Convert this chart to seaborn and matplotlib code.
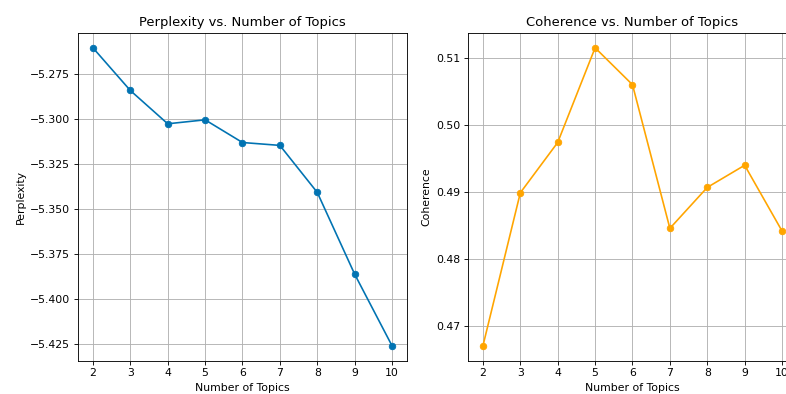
import matplotlib
matplotlib.use("Agg")
import matplotlib.pyplot as plt
import seaborn as sns
import pandas as pd

sns.set_style("ticks", {"text.color": "black", "axes.labelcolor": "black",
                        "xtick.color": "black", "ytick.color": "black"})
plt.rcParams['font.family'] = ['DejaVu Sans']

topics = [2, 3, 4, 5, 6, 7, 8, 9, 10]
perplexity = [-5.2606, -5.2843, -5.3028, -5.3006, -5.3132, -5.3148, -5.3409, -5.3863, -5.4261]
coherence = [0.4671, 0.4899, 0.4974, 0.5115, 0.5060, 0.4846, 0.4907, 0.4940, 0.4842]

df = pd.DataFrame({"topics": topics, "perplexity": perplexity, "coherence": coherence})

# original was a 10x5 figure shrunk to 786 px wide
fig = plt.figure(figsize=(10, 394 / 78.6), dpi=78.6)
ax1 = fig.add_axes([0.0992, 0.0845, 0.4186, 0.832])
ax2 = fig.add_axes([0.5954, 0.0845, 0.4186, 0.832])

sns.lineplot(data=df, x="topics", y="perplexity", marker="o", color="#0173b2",
             markeredgecolor="#0173b2", ax=ax1)
ax1.set_title("Perplexity vs. Number of Topics")
ax1.set_xlabel("Number of Topics")
ax1.set_ylabel("Perplexity")

sns.lineplot(data=df, x="topics", y="coherence", marker="o", color="orange",
             markeredgecolor="orange", ax=ax2)
ax2.set_title("Coherence vs. Number of Topics")
ax2.set_xlabel("Number of Topics")
ax2.set_ylabel("Coherence")

for ax in (ax1, ax2):
    ax.set_xticks(topics)
    ax.grid(True, color="#b0b0b0", linewidth=0.8)
    for s in ax.spines.values():
        s.set_color("black")
        s.set_linewidth(0.8)
    ax.tick_params(labelsize=10, color="black", labelcolor="black", length=3.5, width=0.8)
    ax.title.set_fontsize(12)
    ax.xaxis.label.set_fontsize(10)
    ax.yaxis.label.set_fontsize(10)

fig.savefig("out.png", dpi=78.6)
